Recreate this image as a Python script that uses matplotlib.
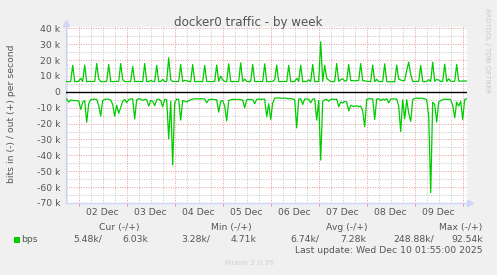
import numpy as np
import matplotlib
matplotlib.use("Agg")
import matplotlib.pyplot as plt
from matplotlib.patches import Rectangle
from matplotlib.ticker import FixedLocator, FuncFormatter, MultipleLocator, NullFormatter

W, H = 497, 275

# hourly samples, x counted in hours from 01 Dec 00:00; first sample 01 Dec 18:00
start_hour = 18

# out (+) traffic, k bits per second
out_k = [
    6.5, 6.4, 6.5, 16.6, 6.5, 6.4, 6.6, 8.5, 6.5, 16.8, 6.4, 6.5,
    6.5, 6.4, 6.6, 17.8, 8.0, 6.5, 6.4, 6.5, 6.5, 17.2, 6.5, 6.4,
    6.5, 6.6, 6.5, 17.8, 7.6, 6.5, 6.4, 6.5, 6.5, 16.0, 6.4, 6.5,
    6.5, 6.4, 6.5, 17.8, 6.5, 6.4, 7.2, 6.5, 6.5, 16.6, 6.4, 6.5,
    7.8, 6.5, 6.4, 21.4, 7.6, 6.5, 6.5, 6.4, 6.5, 17.2, 6.5, 7.2,
    7.0, 6.5, 6.4, 17.2, 6.5, 6.4, 6.5, 6.5, 6.4, 16.6, 6.5, 6.5,
    6.4, 6.5, 6.5, 16.8, 6.6, 9.9, 7.6, 6.5, 6.4, 17.6, 6.5, 6.4,
    6.5, 6.5, 6.4, 18.2, 6.5, 8.0, 6.5, 6.4, 6.5, 17.2, 6.5, 6.4,
    6.5, 6.5, 6.4, 17.6, 6.5, 6.4, 6.5, 6.6, 7.6, 16.8, 6.5, 6.4,
    6.5, 6.5, 6.4, 16.6, 6.5, 6.4, 6.5, 8.5, 6.5, 16.8, 6.4, 6.5,
    6.5, 7.5, 6.5, 17.2, 6.4, 6.5, 6.5, 31.5, 6.6, 16.6, 8.5, 7.4,
    6.5, 6.4, 6.5, 17.8, 6.6, 7.6, 8.2, 6.8, 6.9, 17.2, 7.0, 7.1,
    6.9, 7.0, 7.1, 17.8, 7.0, 6.9, 6.6, 6.5, 6.4, 16.8, 6.5, 7.8,
    6.5, 6.4, 6.5, 17.6, 6.5, 6.3, 6.3, 6.4, 6.3, 16.8, 8.0, 7.4,
    7.0, 7.1, 13.5, 18.7, 11.0, 6.6, 6.5, 6.6, 6.5, 16.6, 6.5, 6.4,
    6.5, 7.6, 6.5, 18.7, 6.6, 7.8, 7.4, 6.5, 6.6, 17.4, 6.5, 8.2,
    6.6, 6.5, 6.6, 17.2, 6.8, 6.7, 6.8, 6.8, 6.8,
]

# in (-) traffic, drawn below zero
in_k = [
    -4.6, -6.5, -5.2, -5.4, -5.6, -5.5, -5.8, -11.1, -6.5, -5.5, -19.1, -7.5,
    -5.0, -4.8, -4.6, -4.8, -8.5, -15.3, -5.5, -4.8, -4.6, -4.7, -5.2, -8.0,
    -15.3, -8.5, -13.5, -10.0, -6.0, -4.8, -6.8, -5.0, -4.4, -4.5, -17.0, -5.0,
    -4.4, -4.6, -5.5, -4.8, -5.0, -9.0, -5.5, -6.0, -8.7, -5.0, -4.6, -5.5,
    -9.4, -4.8, -5.0, -29.6, -6.0, -46.1, -7.0, -4.6, -4.8, -17.8, -5.5, -5.8,
    -6.5, -5.6, -5.0, -4.6, -4.4, -4.4, -4.5, -4.4, -4.4, -4.5, -6.9, -5.0,
    -4.8, -4.8, -4.9, -5.0, -12.8, -6.0, -5.5, -9.0, -18.3, -5.5, -5.0, -4.8,
    -4.8, -4.9, -4.8, -5.0, -5.2, -10.0, -5.0, -4.8, -4.8, -5.0, -7.5, -4.8,
    -4.6, -4.8, -4.6, -4.6, -15.7, -7.5, -17.4, -7.0, -4.0, -3.9, -3.8, -4.0,
    -4.1, -3.9, -4.2, -4.4, -4.3, -4.5, -5.0, -22.7, -4.5, -4.4, -8.0, -4.6,
    -4.5, -4.7, -6.9, -4.6, -4.5, -17.8, -5.5, -43.0, -6.0, -5.0, -4.8, -6.0,
    -4.8, -4.6, -4.8, -4.6, -9.4, -6.5, -7.0, -6.0, -6.5, -12.0, -8.5, -9.0,
    -9.2, -8.8, -9.4, -9.0, -12.0, -22.0, -4.8, -4.4, -4.4, -4.5, -17.4, -4.6,
    -4.4, -5.6, -4.6, -5.2, -4.4, -7.0, -4.6, -4.4, -4.6, -4.6, -9.0, -25.0,
    -5.0, -17.0, -5.0, -13.4, -18.6, -5.0, -4.2, -4.0, -4.2, -4.0, -4.2, -4.4,
    -5.0, -15.3, -63.5, -6.5, -8.0, -19.0, -6.5, -5.5, -5.0, -4.6, -4.8, -4.6,
    -5.0, -8.5, -16.3, -6.5, -9.0, -6.0, -17.4, -4.8, -4.4,
]

day_labels = ["02 Dec", "03 Dec", "04 Dec", "05 Dec", "06 Dec", "07 Dec", "08 Dec", "09 Dec"]

legend_heads = ["Cur (-/+)", "Min (-/+)", "Avg (-/+)", "Max (-/+)"]
legend_in = ["5.48k/", "3.28k/", "6.74k/", "248.88k/"]
legend_out = ["6.03k", "4.71k", "7.28k", "92.54k"]
last_update = "Last update: Wed Dec 10 01:55:00 2025"

hours = start_hour + np.arange(len(out_k))
out_bps = np.array(out_k) * 1000
in_bps = np.array(in_k) * 1000

# colours (munin style)
green = "#00CC00"
bg = "#F0F0F0"
font_c = "#555555"
axis_c = "#CFD6F8"
mgrid_c = "#EA9A9A"
grid_c = "#C4C4C4"


def fx(x):
    return x / W


def fy(y):
    return 1 - y / H


fig = plt.figure(figsize=(W / 100, H / 100), dpi=100, facecolor=bg)
ax = fig.add_axes([fx(66), fy(203), (467 - 66) / W, (203 - 26.5) / H], facecolor="white")

ax.plot(hours, out_bps, color=green, lw=0.9, zorder=3)
ax.plot(hours, in_bps, color=green, lw=0.9, zorder=3)
ax.axhline(0, color="black", lw=1.0, zorder=4)

ax.set_xlim(17.65, 218.15)
ax.set_ylim(-70000, 41100)

# midnight = major (red) grid, every 6 hours = minor (grey) grid, labels at noon
midnights = [24 * (int(d[:2]) - 1) for d in day_labels] + [24 * 9]
noon_labels = {24 * (int(d[:2]) - 1) + 12: d for d in day_labels}
ax.xaxis.set_major_locator(FixedLocator(midnights))
ax.xaxis.set_major_formatter(NullFormatter())
ax.xaxis.set_minor_locator(MultipleLocator(6))
ax.xaxis.set_minor_formatter(FuncFormatter(lambda v, p: noon_labels.get(int(round(v)), "")))

ax.yaxis.set_major_locator(MultipleLocator(10000))
ax.yaxis.set_minor_locator(MultipleLocator(5000))
ax.yaxis.set_major_formatter(FuncFormatter(lambda v, p: "0" if v == 0 else f"{v / 1000:.0f} k"))

ax.grid(which="minor", color=grid_c, ls=(0, (1, 1.5)), lw=0.7, zorder=1)
ax.grid(which="major", color=mgrid_c, ls=(0, (1, 1.5)), lw=0.7, zorder=1.5)

ax.tick_params(axis="x", which="major", length=2.5, width=0.7, color=mgrid_c, direction="out")
ax.tick_params(axis="x", which="minor", length=0, pad=3.8, labelsize=6.7, labelcolor=font_c)
ax.tick_params(axis="y", which="both", length=0, pad=4.3, labelsize=6.7, labelcolor=font_c)

for s in ["top", "right"]:
    ax.spines[s].set_visible(False)
for s in ["left", "bottom"]:
    ax.spines[s].set_color(axis_c)
    ax.spines[s].set_linewidth(1.0)

# axis arrows
ax.plot([0, 0], [1, 1.02], color=axis_c, lw=1.0, transform=ax.transAxes, clip_on=False)
ax.plot([0], [1.02], marker="^", ms=5, color=axis_c, mec=axis_c, transform=ax.transAxes, clip_on=False)
ax.plot([1, 1.008], [0, 0], color=axis_c, lw=1.0, transform=ax.transAxes, clip_on=False)
ax.plot([1.008], [0], marker=">", ms=5, color=axis_c, mec=axis_c, transform=ax.transAxes, clip_on=False)

fig.text(fx(248.5), fy(26), "docker0 traffic - by week", ha="center", va="baseline",
         fontsize=8.6, color=font_c)
fig.text(fx(11.5), fy(114), "bits in (-) / out (+) per second", rotation=90,
         ha="center", va="center", fontsize=6.7, color=font_c)
fig.text(fx(487), fy(51), "RRDTOOL / TOBI OETIKER", rotation=270, ha="center", va="center",
         fontsize=4.8, color="#C8C8C8")

# legend
fig.add_artist(Rectangle((fx(14), fy(243)), 6 / W, 6 / H, transform=fig.transFigure,
                         facecolor=green, edgecolor="none"))
fig.text(fx(20.7), fy(239.5), "bps", ha="left", va="center", fontsize=6.7, color=font_c)

head_x = [98.7, 211.3, 326, 439.3]
in_x = [73.3, 181.7, 290, 393.3]
out_x = [122.7, 231, 340, 451.7]
for h, x in zip(legend_heads, head_x):
    fig.text(fx(x), fy(227.3), h, ha="left", va="center", fontsize=6.7, color=font_c)
for v, x in zip(legend_in, in_x):
    fig.text(fx(x), fy(239.5), v, ha="left", va="center", fontsize=6.7, color=font_c)
for v, x in zip(legend_out, out_x):
    fig.text(fx(x), fy(239.5), v, ha="left", va="center", fontsize=6.7, color=font_c)

fig.text(fx(482.3), fy(250.5), last_update, ha="right", va="center", fontsize=6.7, color=font_c)
fig.text(fx(225.3), fy(263), "Munin 2.0.76", ha="left", va="center", fontsize=5.4, color="#D0D0D0")

fig.savefig("out.png", dpi=100, facecolor=bg)
